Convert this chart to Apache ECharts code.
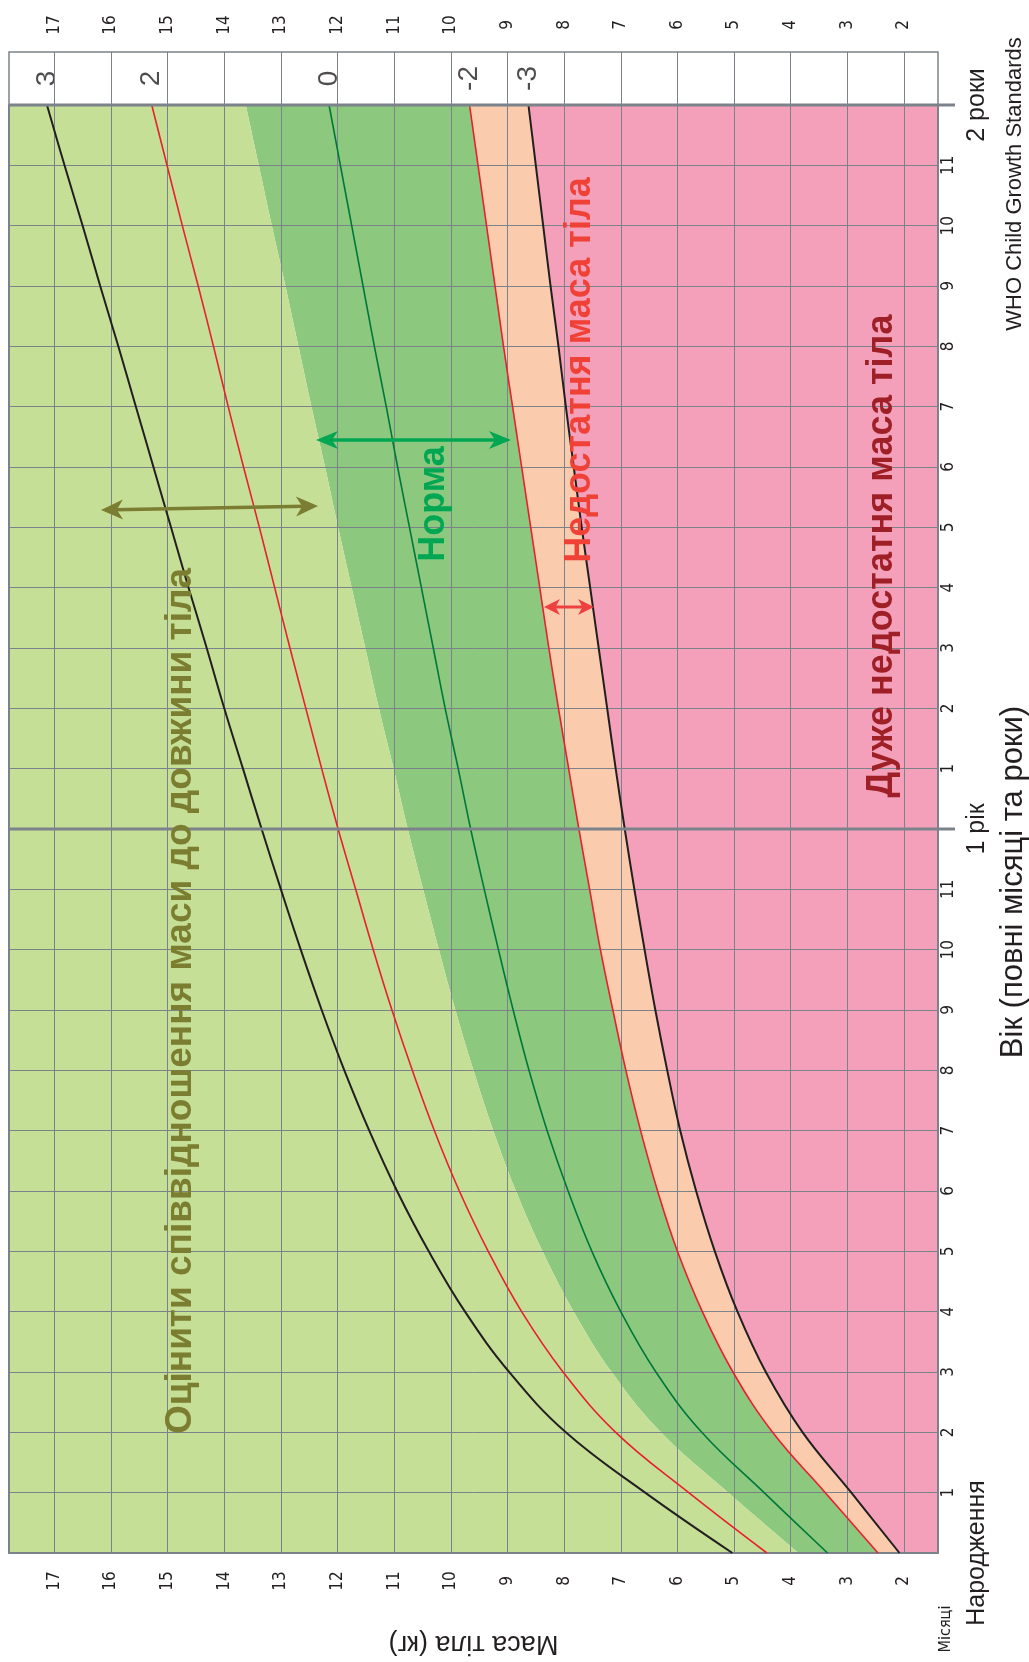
<!DOCTYPE html>
<html><head><meta charset="utf-8">
<script src="https://cdn.jsdelivr.net/npm/echarts@6/dist/echarts.min.js"></script>
<style>html,body{margin:0;padding:0;background:#fff}#c{width:1029px;height:1662px}</style>
</head><body><div id="c"></div>
<script>
// ---- data (weight-for-age, boys 0-24 months, read/estimated from chart) ----
const months = ['0','1','2','3','4','5','6','7','8','9','10','11','12','13','14','15','16','17','18','19','20','21','22','23','24'];
const sdM3 = [2.08,2.93,3.79,4.44,4.94,5.34,5.67,5.95,6.18,6.39,6.58,6.76,6.93,7.09,7.24,7.39,7.54,7.69,7.83,7.97,8.10,8.24,8.37,8.50,8.63];
const sdM2 = [2.46,3.39,4.32,5.02,5.56,6.00,6.35,6.65,6.91,7.14,7.36,7.55,7.74,7.92,8.10,8.27,8.43,8.59,8.75,8.91,9.07,9.22,9.37,9.52,9.67];
const sd0  = [3.35,4.47,5.57,6.38,7.00,7.51,7.93,8.30,8.62,8.90,9.16,9.41,9.65,9.87,10.10,10.31,10.52,10.73,10.94,11.14,11.35,11.55,11.75,11.95,12.15];
const sdP1 = [3.86,5.10,6.29,7.16,7.83,8.38,8.85,9.25,9.60,9.92,10.21,10.49,10.76,11.01,11.27,11.51,11.75,11.99,12.22,12.46,12.69,12.92,13.16,13.39,13.62];
const sdP2 = [4.42,5.80,7.09,8.02,8.75,9.34,9.85,10.29,10.68,11.04,11.37,11.68,11.99,12.28,12.56,12.84,13.11,13.38,13.66,13.93,14.19,14.46,14.74,15.01,15.28];
const sdP3 = [5.03,6.57,7.97,8.97,9.75,10.39,10.95,11.44,11.88,12.28,12.65,13.00,13.34,13.67,14.00,14.31,14.63,14.94,15.25,15.56,15.87,16.19,16.50,16.82,17.13];
const weightTicks = [2,3,4,5,6,7,8,9,10,11,12,13,14,15,16,17];
const zNames = ['3','2','0','-2','-3'];
const yearLabels = {0:'Народження', 12:'1 рік', 24:'2 роки'};
const XMIN = 1.4, XMAX = 17.8;

// ---- styles ----
const GRID = '#7c8289', INK = '#231f20';
const NARROW = "'Liberation Sans Narrow','Arial Narrow','DejaVu Sans Condensed',sans-serif";
const SANS = "'Liberation Sans',Arial,Helvetica,sans-serif";
const S = 0.4;

const intFmt = v => Math.abs(v - Math.round(v)) < 1e-6 && weightTicks.indexOf(Math.round(v)) >= 0 ? String(Math.round(v)) : '';
const monthFmt = (v, i) => (i === 0 || i === 12 || i === 24) ? '' : String(i < 12 ? i : i - 12);
const yearFmt = (v, i) => yearLabels[i] || '';

const bandPeach = sdM2.map((v, i) => v - sdM3[i]);
const bandDark = sdP1.map((v, i) => v - sdM2[i]);
const bandLight = sdP1.map(v => XMAX - v);
const last = a => a[a.length - 1];
const zEnds = [last(sdP3), last(sdP2), last(sd0), last(sdM2), last(sdM3)];

function band(data, color, extra) {
  return Object.assign({type:'line', xAxisIndex:0, yAxisIndex:0, stack:'bands', data, smooth:S, symbol:'none',
    lineStyle:{width:0}, areaStyle:{color, opacity:1}, z:1, silent:true}, extra || {});
}
function curve(data, color, width) {
  return {type:'line', xAxisIndex:0, yAxisIndex:0, data, smooth:S, symbol:'none',
    lineStyle:{color, width}, z:6, silent:true};
}
const axisLbl = (extra) => Object.assign({rotate:90, align:'center', verticalAlign:'middle', fontSize:17, fontFamily:NARROW, color:INK}, extra);

const option = {
  animation:false,
  backgroundColor:'#fff',
  grid:[
    {left:9, top:105, width:929, height:1450},
    {left:9, top:52, width:929, height:53, show:true, borderColor:GRID, borderWidth:1.5, backgroundColor:'#fff'}
  ],
  xAxis:[
    {gridIndex:0, type:'value', inverse:true, min:XMIN, max:XMAX, interval:0.2, position:'bottom', z:3,
      axisLine:{show:true, onZero:false, lineStyle:{color:GRID, width:2}}, axisTick:{show:false}, splitLine:{show:false},
      axisLabel:axisLbl({formatter:intFmt, margin:28}),
      name:'Маса тіла (кг)', nameLocation:'middle', nameRotate:180, nameGap:77,
      nameTextStyle:{fontSize:27, fontFamily:SANS, color:INK}},
    {gridIndex:1, type:'value', inverse:true, min:XMIN, max:XMAX, interval:0.2, position:'top',
      axisLine:{show:false}, axisTick:{show:false}, splitLine:{show:false},
      axisLabel:axisLbl({formatter:intFmt, margin:27})}
  ],
  yAxis:[
    {gridIndex:0, type:'category', data:months, boundaryGap:false, position:'right', z:3,
      axisLine:{show:true, onZero:false, lineStyle:{color:GRID, width:2}}, axisTick:{show:false},
      splitLine:{show:true, interval:0, lineStyle:{color:GRID, width:1}},
      axisLabel:axisLbl({interval:0, formatter:monthFmt, margin:11})},
    {gridIndex:0, type:'category', data:months, boundaryGap:false, position:'right',
      axisLine:{show:false}, axisTick:{show:false}, splitLine:{show:false},
      axisLabel:{interval:0, formatter:yearFmt, rotate:90, align:'center', verticalAlign:'middle', margin:39, fontSize:25, fontFamily:SANS, color:INK}},
    {gridIndex:1, type:'value', min:0, max:1, show:false},
    {gridIndex:0, type:'category', data:months, boundaryGap:false, position:'left', z:3,
      axisLine:{show:true, onZero:false, lineStyle:{color:GRID, width:2}}, axisTick:{show:false},
      axisLabel:{show:false}, splitLine:{show:false}}
  ],
  series:[
    band(sdM3, '#f4a0bb', {markLine:{silent:true, symbol:'none', z:5, label:{show:false},
      lineStyle:{color:GRID, width:1, type:'solid'}, data: weightTicks.map(w => ({xAxis:w}))}}),
    band(bandPeach, '#fbcbae'),
    band(bandDark, '#8cc97e'),
    band(bandLight, '#c5df96'),
    curve(sdP3, '#231f20', 2),
    curve(sdP2, '#e8202e', 1.6),
    curve(sd0, '#00773a', 1.6),
    curve(sdM2, '#e8202e', 1.6),
    curve(sdM3, '#231f20', 2),
    {type:'scatter', xAxisIndex:1, yAxisIndex:2, symbolSize:1, itemStyle:{color:'rgba(0,0,0,0)'}, silent:true,
      data: zEnds.map((w, i) => ({value:[w, 0.5], name:zNames[i]})),
      label:{show:true, position:'inside', formatter:p => p.name, rotate:90, fontSize:28, fontFamily:SANS, color:INK},
      markLine:{silent:true, symbol:'none', z:5, label:{show:false}, lineStyle:{color:GRID, width:1, type:'solid'},
        data: weightTicks.map(w => ({xAxis:w}))}}
  ]
};

const chart = echarts.init(document.getElementById('c'), null, {renderer:'canvas'});
chart.setOption(option);

const px = (w, m) => chart.convertToPixel({gridIndex:0}, [w, m]);
const gfx = [];
[12, 24].forEach(m => {
  const a = px(XMAX, m), b = px(XMIN, m);
  gfx.push({type:'line', z:7, silent:true, shape:{x1:a[0], y1:a[1], x2:b[0] + 17, y2:b[1]}, style:{stroke:GRID, lineWidth:3}});
});
function dblArrow(x1, y1, x2, y2, color, lw, hl, hh) {
  const dx = x2 - x1, dy = y2 - y1, L = Math.hypot(dx, dy), ux = dx / L, uy = dy / L, nx = -uy, ny = ux;
  const head = (tx, ty, dir) => {
    const bx = tx - dir * ux * hl, by = ty - dir * uy * hl;
    const mx = tx - dir * ux * hl * 0.72, my = ty - dir * uy * hl * 0.72;
    return {type:'polygon', z:20, silent:true, shape:{points:[[tx, ty], [bx + nx * hh, by + ny * hh], [mx, my], [bx - nx * hh, by - ny * hh]]}, style:{fill:color}};
  };
  gfx.push({type:'line', z:20, silent:true, shape:{x1:x1 + ux * hl * 0.6, y1:y1 + uy * hl * 0.6, x2:x2 - ux * hl * 0.6, y2:y2 - uy * hl * 0.6}, style:{stroke:color, lineWidth:lw}});
  gfx.push(head(x1, y1, -1));
  gfx.push(head(x2, y2, 1));
}
dblArrow(101, 510, 318, 506, '#7a7d32', 3.5, 22, 10);
dblArrow(316, 440, 511, 440, '#00a651', 3.5, 22, 9);
dblArrow(544, 607, 594, 607, '#ef4040', 3, 16, 8);

function rtext(x, y, text, size, color, bold, fam, rot) {
  gfx.push({type:'text', z:30, silent:true, x, y, rotation: rot === undefined ? Math.PI / 2 : rot,
    style:{text, fill:color, font:(bold ? 'bold ' : '') + size + 'px ' + (fam || SANS), textAlign:'center', textVerticalAlign:'middle'}});
}
rtext(181, 1001, 'Оцінити співвідношення маси до довжини тіла', 37, '#7b7d30', true);
rtext(434, 504, 'Норма', 36, '#00a651', true);
rtext(580, 370, 'Недостатня маса тіла', 36, '#ef4136', true);
rtext(882, 556, 'Дуже недостатня маса тіла', 36, '#9e1f25', true);
rtext(1013, 882, 'Вік (повні місяці та роки)', 31, INK, false);
rtext(1015, 184, 'WHO Child Growth Standards', 22, INK, false);
rtext(946, 1629, 'Місяці', 16, INK, false, NARROW);

chart.setOption({graphic: gfx});
</script>
</body></html>
